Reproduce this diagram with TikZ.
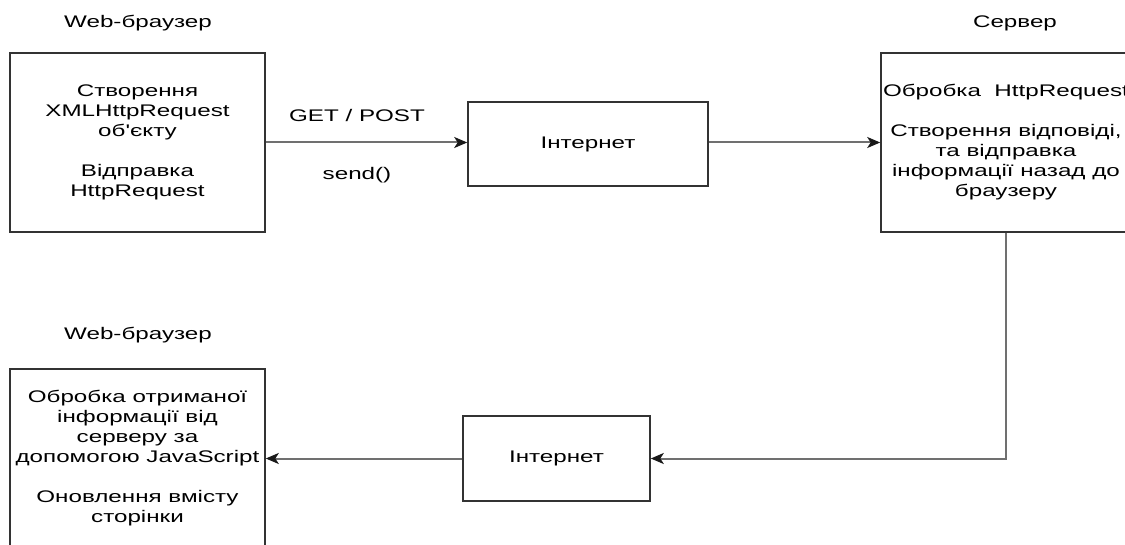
\documentclass[tikz,border=0pt]{standalone}
\usepackage{fontspec}
\setmainfont{Liberation Sans}[FakeStretch=1.44,Ligatures=TeXOff]
\usetikzlibrary{arrows.meta}
\definecolor{boxline}{HTML}{333333}
\definecolor{conline}{HTML}{707070}
\tikzset{
  txt/.style={font=\fontsize{16.8}{20}\selectfont, align=center, inner sep=0pt},
  box/.style={txt, draw=boxline, line width=1.6pt},
  conn/.style={draw=conline, line width=2pt,
    -{Stealth[length=13pt,width=11pt,inset=3.5pt,color=black!90]}},
}
\begin{document}
\begin{tikzpicture}[x=1pt,y=-1pt]
\useasboundingbox (0,0) rectangle (1125,545);
\clip (0,0) rectangle (1125,545);
\fill[white] (0,0) rectangle (1125,545);

% titles
\node[txt, anchor=base] (t1) at (138,28) {Web-браузер};
\node[txt, anchor=base] (t2) at (1015,28) {Сервер};
\node[txt, anchor=base] (t3) at (138,340) {Web-браузер};

% boxes
\node[box, minimum width=255pt, minimum height=179pt] (b1) at (137.5,142.5)
  {Створення\\XMLHttpRequest\\об'єкту\\[20pt]Відправка\\HttpRequest};
\node[box, minimum width=240pt, minimum height=84pt] (i1) at (588,144) {Інтернет};
\node[box, minimum width=250pt, minimum height=179pt] (srv) at (1006,142.5)
  {Обробка\ \ HttpRequest\\[20pt]Створення відповіді,\\та відправка\\інформації назад до\\браузеру};
\node[box, minimum width=187pt, minimum height=85pt] (i2) at (556.5,458.5) {Інтернет};
\node[box, minimum width=255pt, minimum height=179pt] (b2) at (137.5,458.5)
  {Обробка отриманої\\інформації від\\серверу за\\допомогою JavaScript\\[20pt]Оновлення вмісту\\сторінки};

% arrow labels
\node[txt] (l1) at (357,115) {GET / POST};
\node[txt] (l2) at (357,175) {send()};

% connectors
\draw[conn] (b1.east) -- (i1.west |- b1.east);
\draw[conn] (i1.east |- b1.east) -- (srv.west);
\draw[conn] (srv.south) |- (i2.east);
\draw[conn] (i2.west) -- (b2.east);
\end{tikzpicture}
\end{document}
